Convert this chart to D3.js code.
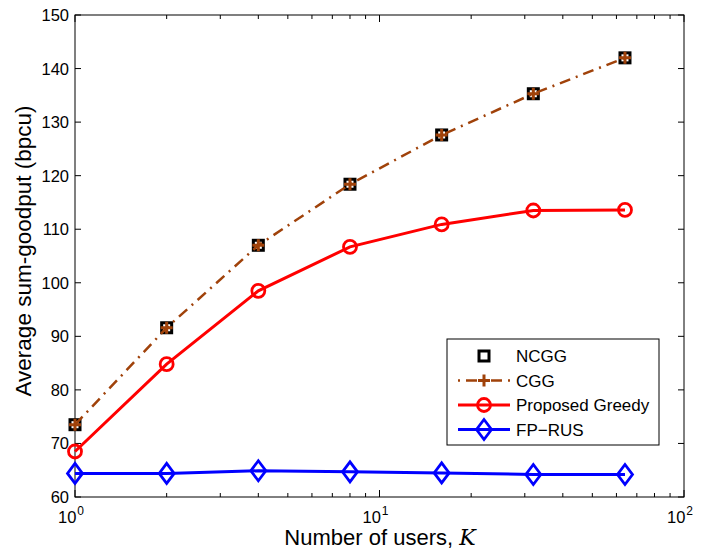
<!DOCTYPE html>
<html><head><meta charset="utf-8">
<script src="https://cdn.jsdelivr.net/npm/d3@7"></script>
<style>body{margin:0;background:#fff}svg{display:block;font-family:"Liberation Sans",Arial,sans-serif}</style>
</head><body><svg id="c" width="704" height="550"></svg>
<script>
const users = [1, 2, 4, 8, 16, 32, 64];
const ncgg = [73.5, 91.6, 107.0, 118.4, 127.6, 135.3, 142.0];
const cgg = [73.5, 91.6, 107.0, 118.4, 127.6, 135.3, 142.0];
const greedy = [68.5, 84.8, 98.5, 106.7, 110.9, 113.5, 113.6];
const fprus = [64.4, 64.4, 64.9, 64.7, 64.5, 64.2, 64.2];
const yTicks = [60, 70, 80, 90, 100, 110, 120, 130, 140, 150];
const xTicks = [1, 10, 100];
const seriesNames = ["NCGG", "CGG", "Proposed Greedy", "FP\u2212RUS"];

const svg = d3.select("#c");
const L = 75, R = 684, T = 15, B = 497;
const x = d3.scaleLog().domain([1, 100]).range([L, R]);
const y = d3.scaleLinear().domain([60, 150]).range([B, T]);
const brown = "#a0420a";

svg.append("rect").attr("x", L).attr("y", T).attr("width", R - L).attr("height", B - T)
  .attr("fill", "none").attr("stroke", "#000").attr("stroke-width", 1);

const minor = [];
for (let d = 1; d < 100; d *= 10) for (let k = 2; k <= 9; k++) minor.push(d * k);
const tg = svg.append("g").attr("stroke", "#000").attr("stroke-width", 1);
yTicks.forEach(v => {
  tg.append("line").attr("x1", L).attr("x2", L + 6).attr("y1", y(v)).attr("y2", y(v));
  tg.append("line").attr("x1", R).attr("x2", R - 6).attr("y1", y(v)).attr("y2", y(v));
});
xTicks.forEach(v => {
  tg.append("line").attr("x1", x(v)).attr("x2", x(v)).attr("y1", B).attr("y2", B - 7);
  tg.append("line").attr("x1", x(v)).attr("x2", x(v)).attr("y1", T).attr("y2", T + 7);
});
minor.forEach(v => {
  tg.append("line").attr("x1", x(v)).attr("x2", x(v)).attr("y1", B).attr("y2", B - 4);
  tg.append("line").attr("x1", x(v)).attr("x2", x(v)).attr("y1", T).attr("y2", T + 4);
});

svg.append("g").selectAll("text").data(yTicks).join("text")
  .attr("x", L - 6).attr("y", d => y(d) + 6).attr("text-anchor", "end")
  .attr("font-size", 16.5).text(d => d);
const xl = svg.append("g").selectAll("text").data(xTicks).join("text")
  .attr("x", d => x(d) - 4).attr("y", B + 26).attr("text-anchor", "middle").attr("font-size", 16.5);
xl.append("tspan").text("10");
xl.append("tspan").attr("dx", 1).attr("dy", -8).attr("font-size", 12).text(d => Math.round(Math.log10(d)));

const xt = svg.append("text").attr("x", 380).attr("y", 545).attr("text-anchor", "middle").attr("font-size", 22);
xt.append("tspan").text("Number of users, ");
xt.append("tspan").attr("font-family", "'DejaVu Serif','Liberation Serif',serif").attr("font-style", "italic").text("K");
svg.append("text").attr("transform", `translate(31,251) rotate(-90)`)
  .attr("text-anchor", "middle").attr("font-size", 22.5).text("Average sum-goodput (bpcu)");

const line = d3.line().x(d => x(d[0])).y(d => y(d[1]));
const zip = arr => users.map((u, i) => [u, arr[i]]);

function square(g, cx, cy) {
  g.append("rect").attr("x", cx - 5).attr("y", cy - 5).attr("width", 10).attr("height", 10)
    .attr("fill", "#fff").attr("stroke", "#000").attr("stroke-width", 3);
}
function plus(g, cx, cy) {
  g.append("path").attr("d", `M${cx - 6},${cy}H${cx + 6}M${cx},${cy - 6}V${cy + 6}`)
    .attr("stroke", brown).attr("stroke-width", 3).attr("fill", "none");
}
function circle(g, cx, cy) {
  g.append("circle").attr("cx", cx).attr("cy", cy).attr("r", 6.5)
    .attr("fill", "none").attr("stroke", "#f00").attr("stroke-width", 2.8);
}
function diamond(g, cx, cy) {
  g.append("path").attr("d", `M${cx},${cy - 10}L${cx + 7.5},${cy}L${cx},${cy + 10}L${cx - 7.5},${cy}Z`)
    .attr("fill", "none").attr("stroke", "#00f").attr("stroke-width", 2.8);
}

const plot = svg.append("g");
plot.append("path").attr("d", line(zip(fprus))).attr("fill", "none").attr("stroke", "#00f").attr("stroke-width", 3);
zip(fprus).forEach(d => diamond(plot, x(d[0]), y(d[1])));
plot.append("path").attr("d", line(zip(greedy))).attr("fill", "none").attr("stroke", "#f00").attr("stroke-width", 3);
zip(greedy).forEach(d => circle(plot, x(d[0]), y(d[1])));
zip(ncgg).forEach(d => square(plot, x(d[0]), y(d[1])));
plot.append("path").attr("d", line(zip(cgg))).attr("fill", "none").attr("stroke", brown)
  .attr("stroke-width", 2.5).attr("stroke-dasharray", "11,6,2,6");
zip(cgg).forEach(d => plus(plot, x(d[0]), y(d[1])));

const lg = svg.append("g");
lg.append("rect").attr("x", 447).attr("y", 339).attr("width", 212).attr("height", 106)
  .attr("fill", "#fff").attr("stroke", "#000").attr("stroke-width", 1);
const ly = [356, 380.5, 405, 429.5];
const lx1 = 458, lx2 = 510, lm = 484;
square(lg, lm, ly[0]);
lg.append("line").attr("x1", lx1).attr("x2", lx2).attr("y1", ly[1]).attr("y2", ly[1])
  .attr("stroke", brown).attr("stroke-width", 2.5).attr("stroke-dasharray", "2,6,11,6");
plus(lg, lm, ly[1]);
lg.append("line").attr("x1", lx1).attr("x2", lx2).attr("y1", ly[2]).attr("y2", ly[2]).attr("stroke", "#f00").attr("stroke-width", 3);
circle(lg, lm, ly[2]);
lg.append("line").attr("x1", lx1).attr("x2", lx2).attr("y1", ly[3]).attr("y2", ly[3]).attr("stroke", "#00f").attr("stroke-width", 3);
diamond(lg, lm, ly[3]);
lg.selectAll("text.l").data(seriesNames).join("text").attr("class", "l")
  .attr("x", 516).attr("y", (d, i) => ly[i] + 6).attr("font-size", 17).text(d => d);
</script></body></html>
